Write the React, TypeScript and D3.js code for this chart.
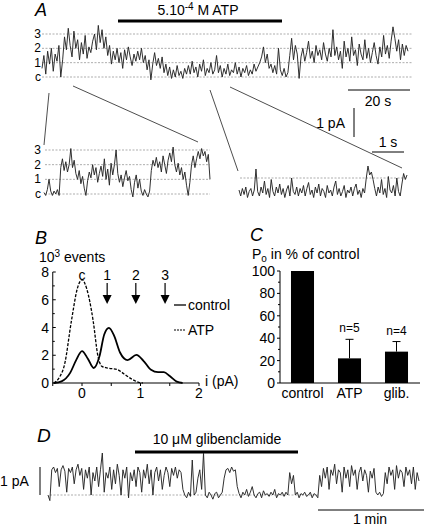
import React from "react";
import * as d3 from "d3";

// ---------- DATA ----------
// Panel A main trace (channel levels, c = 0), evenly sampled over ~118 s
const traceA: number[] = [
  0.6, 1.5, 0.2, 1.8, 0.9, 2.0, 0.4, 1.6, 1.1, 2.2,
  0.0, 1.2,
  2.8, 1.9, 3.4, 2.2,
  1.4, 3.2, 2.0, 2.6,
  1.2, 2.4, 1.6, 2.9, 1.3, 2.1, 1.7,
  2.5, 3.0, 1.9, 3.6, 2.4, 3.3, 2.0, 2.8,
  1.5, 2.2, 0.9, 1.8, 1.2,
  2.0, 1.0, 1.7, 0.6, 1.9, 1.2, 2.1, 1.4, 0.8, 1.6, 1.1,
  1.8, 1.2, 2.0, 1.0, 1.5, 0.5, 1.2,
  -0.2, 0.9, 1.7, 0.8, 1.3,
  0.6, 1.4, 0.3, 0.9,
  0.1, 0.7, -0.1, 0.5, 0.0, 0.8, 0.1, 0.4, -0.1, 0.6, 0.2,
  0.8, 0.2, 1.1, 0.3, 0.7, 0.0, 0.9, 0.4, 1.2, 0.1, 0.6, 0.3, 1.0, 0.2, 0.5, 1.5,
  0.3, 0.8, 0.0, 0.6, 0.2, 0.9, 0.1, 0.5, 0.3, 1.0, 0.2, 0.7, 0.0, 0.6, 0.3, 0.8, 0.1, 0.5, 0.2, 0.9, 0.4, 0.7, 1.0,
  1.4, 2.1, 1.0, 1.6,
  0.6, 0.9, 0.3, 0.8, 0.2, 2.0,
  0.5, 0.1, 0.6, 0.0, 0.3,
  1.5, 2.7, 1.2, 2.2, 1.6,
  -0.1,
  1.4, 2.0, 1.1, 1.7, 2.5, 1.3, 1.8, 1.0, 2.2, 1.5, 1.9, 1.2, 2.4, 1.6, 1.1, 2.0, 1.4,
  3.3, 1.5,
  2.1, 1.2, 1.8, 0.6, 2.5, 1.4, 2.0, 1.1, 2.8, 1.5, 1.9, 0.8, 2.3, 1.6, 1.2, 2.6, 1.3, 2.0, 1.0, 1.7, 2.4, 1.5, 0.9, 2.1, 1.4, 2.9, 1.6, 2.2, 1.3,
  2.5, 3.5, 2.7,
  1.8, 2.6, 1.2, 2.3, 1.5, 2.2, 1.8,
];

// Inset 1 (control, expanded)
const insetControl: number[] = [
  0.1, -0.1, 0.3, 1.0, 0.2, -0.1, 0.2, 0.0, 0.3, -0.1,
  1.8, 2.4, 1.6, 2.2, 1.5, 2.0, 3.1, 1.8, 2.3, 1.4,
  1.0, 1.6, 0.7, 1.2, 0.4, -0.1,
  0.9, 1.5, 1.1, 2.0, 1.3, 1.8, 0.8, 1.4,
  1.9, 1.2, 2.4, 1.0, 1.7, 0.6, 2.1, 1.3, 2.0, 3.0,
  1.4, 0.8, 1.3, 0.5, 1.1, 1.6, 0.9, 1.2, 0.3, -0.2,
  0.8, 1.3, 0.4, 1.0, 0.2, -0.1, 0.3, 0.0, -0.2, 0.2,
  1.6, 2.3, 1.9, 2.5,
  1.8, 2.2, 1.5, 2.6, 2.0, 1.4, 2.3, 2.8, 2.2, 3.2,
  2.0, 1.5, 2.1, 1.3, 1.8, 1.0, 1.5, 0.6,
  -0.1, 0.8,
  2.0, 2.6, 1.8, 2.4,
  2.9, 2.4, 3.1, 2.6, 2.9, 2.2, 2.7,
  1.0,
];

// Inset 2 (ATP, expanded)
const insetATP: number[] = [
  0.2, -0.2, 0.3, -0.1, 0.4, -0.3, 0.1, 0.3, -0.2, 0.2,
  1.6,
  0.1, -0.2, 0.4, 0.0, 0.8, -0.1, 0.3, -0.3,
  0.9, 0.1, -0.2, 0.4, 0.0, 0.6, -0.1, 0.3, -0.3, 0.2, 0.5, -0.2, 1.0, 0.1, -0.1, 0.4, -0.2, 0.3,
  0.0, 0.5, -0.2, 0.3, 0.7, -0.1, 0.2, -0.3, 0.4, 0.0, 0.6, -0.2, 0.3, 0.1, -0.3, 0.5, 0.0, 0.2, -0.2, 0.4,
  0.8, -0.1, 0.3, -0.2, 0.1, 0.5, -0.3, 0.2, 0.0, 0.4, -0.2, 0.3, 0.6, -0.1, 0.2, -0.3, 0.3, 0.0,
  1.0, 1.8, 1.2, 1.4, 0.9, 0.3,
  -0.2, 0.4, 0.0, 0.9, -0.1, 0.3, -0.3, 1.1, 0.2, 0.0, 0.5, -0.2, 1.0, 0.1, -0.2,
  0.6, 1.3, 0.9, 1.2,
];

// Panel D trace (pA)
const traceD: number[] = [
  0.0, -0.2,
  0.9, 1.0, 0.8, 0.95, 0.3, 0.9, 1.05, 0.85, 0.1, 0.95, 0.8, 1.0, 0.4, 0.9, 1.1, 0.7, 0.95,
  0.2, 0.9, 0.6, 1.0, 0.0, 0.8, 0.5, 1.0, 0.3, 0.9, 1.5, 0.1, 0.8, 0.6, 1.0, 0.2, 0.9, 0.4, 1.1, 0.7, 0.0, 0.9, 0.6, 1.0, -0.1, 0.8, 0.5,
  0.9, 0.3, 1.0, 0.8, 0.1, 0.9, 0.6, 1.1, 0.4, 0.9, 0.0, 0.8, 1.0, 0.5, 0.9, 0.2, 0.7, 1.0, 0.8, 0.3, 0.95, 0.7, 1.0, 0.6, 0.9, 0.8, 0.2,
  0.0, -0.1, 0.1, -0.05, 1.25, 0.0, 0.1, 0.6, 0.9, 0.2, 1.5, 0.0, -0.1, 0.1, 0.0, -0.15, 0.05, 0.1, -0.1, 0.0, 0.1,
  0.6, 0.9, 0.95, 0.8, 1.0, 0.85, 0.9, 0.3,
  0.05, -0.1, 0.1, 0.0, 0.2, -0.05, 0.1, 0.3, 0.0, -0.1, 0.05, 0.1, -0.1, 0.15, 0.0, 0.05, -0.05, 0.1, 0.0, 0.2, -0.1, 0.05, 0.0, 0.1, -0.05, 0.1, 0.0,
  0.8, 0.4, 0.7,
  0.0, 0.1, -0.1, 0.05, 0.0, 0.1, -0.05, 0.0, 0.1, -0.1, 0.05, 0.0, -0.1,
  0.7, 0.3, 0.95, 0.6, 1.0, 0.2, 0.9, 0.7, 1.1, 0.4, 0.9, 0.8, 0.1, 1.0, 0.6, 0.9, 0.3, 1.05, 0.7, 0.9, 0.2, 0.8, 1.0, 0.5, 0.9, 0.7, 0.1, 0.85, 0.6, 0.95,
  0.1, 0.0, 0.1, -0.05, 0.05,
  0.8, 0.4, 1.0, 0.7, 0.9, 0.2, 1.05, 0.6, 0.9, 0.8, 0.3, 1.0, 0.7, 0.9, 0.4, 1.0, 0.2, 0.8, 0.5,
];

const levelLabels = ["c", "1", "2", "3"];

// Panel B amplitude histograms: [i (pA), 10^3 events]
const histControl: [number, number][] = [
  [-0.48, 0], [-0.35, 0.12], [-0.2, 0.75], [-0.1, 1.65], [0, 2.3], [0.1, 1.75], [0.2, 1.08],
  [0.3, 1.95], [0.38, 3.5], [0.46, 3.98], [0.55, 3.4], [0.65, 2.2], [0.78, 1.65], [0.93, 2.02],
  [1.05, 1.6], [1.18, 0.95], [1.3, 0.78], [1.4, 0.78], [1.5, 0.5], [1.62, 0.1], [1.72, 0],
];
const histATP: [number, number][] = [
  [-0.48, 0], [-0.38, 0.45], [-0.3, 1.3], [-0.18, 4.5], [-0.08, 6.8], [0, 7.45], [0.08, 6.8],
  [0.19, 4.5], [0.27, 2.0], [0.34, 1.2], [0.45, 1.07], [0.6, 0.98], [0.72, 0.65], [0.85, 0.28],
  [0.97, 0.05], [1.04, 0],
];
const arrowLevels = [0.43, 0.92, 1.42];
const arrowLabels = ["1", "2", "3"];
const histXTicks = [0, 1, 2];
const histYTicks = [0, 2, 4, 6, 8];

// Panel C
const poCategories = ["control", "ATP", "glib."];
const poValues = [100, 22, 28];
const poErrors = [0, 17, 9];
const poN = ["", "n=5", "n=4"];
const poYTicks = [0, 20, 40, 60, 80, 100];

const FONT = "'Liberation Sans', Arial, Helvetica, sans-serif";
const TRACE = "#262626";

function tracePath(vals: number[], x0: number, x1: number, yScale: (v: number) => number) {
  const xs = d3.scaleLinear().domain([0, vals.length - 1]).range([x0, x1]);
  return d3.line<number>().x((_, i) => xs(i)).y((v) => yScale(v))(vals) || "";
}

export default function App() {
  // Panel A scales
  const yA = d3.scaleLinear().domain([0, 3]).range([77, 34]);
  const yI1 = d3.scaleLinear().domain([0, 3]).range([194, 150]);
  const yI2 = d3.scaleLinear().domain([0, 1]).range([193, 178]);
  const yD = d3.scaleLinear().domain([0, 1]).range([495, 467]);

  // Panel B scales
  const xB = d3.scaleLinear().domain([-0.5, 2]).range([52.75, 199]);
  const yB = d3.scaleLinear().domain([0, 8]).range([383, 272]);
  const histLine = d3.line<[number, number]>().x((d) => xB(d[0])).y((d) => yB(d[1])).curve(d3.curveMonotoneX);

  // Panel C scales
  const xC = d3.scaleBand<string>().domain(poCategories).range([279, 420]).paddingInner(0.51).paddingOuter(0.255);
  const yC = d3.scaleLinear().domain([0, 100]).range([383, 271]);

  const dash = { stroke: "#8a8a8a", strokeWidth: 0.7, strokeDasharray: "2,1.5" };
  const traceStyle = { fill: "none", stroke: TRACE, strokeWidth: 0.95, strokeLinejoin: "bevel" as const };

  return (
    <svg width={424} height={528} style={{ position: "absolute", left: 0, top: 0, background: "#fff" }} fontFamily={FONT}>
      <rect x={0} y={0} width={424} height={528} fill="#fff" />
      {/* ===== Panel A ===== */}
      <text x={35} y={16} fontSize={18} fontStyle="italic">A</text>
      <text x={198} y={15} fontSize={14} textAnchor="middle">
        5.10<tspan fontSize={10} dy={-5}>-4</tspan><tspan dy={5}> M ATP</tspan>
      </text>
      <line x1={118} x2={282} y1={21} y2={21} stroke="#000" strokeWidth={3} />
      {[0, 1, 2, 3].map((l) => (
        <g key={"al" + l}>
          <line x1={42} x2={412} y1={yA(l)} y2={yA(l)} {...dash} />
          <text x={41} y={yA(l) + 4} fontSize={12} textAnchor="end">{levelLabels[l]}</text>
        </g>
      ))}
      <path d={tracePath(traceA, 42, 408, yA)} {...traceStyle} />
      {/* 20 s bar */}
      <line x1={348} x2={410} y1={90} y2={90} stroke="#000" strokeWidth={1} />
      <text x={378} y={106} fontSize={14} textAnchor="middle">20 s</text>
      {/* 1 pA bar */}
      <line x1={354} x2={354} y1={108} y2={137} stroke="#000" strokeWidth={1} />
      <text x={345} y={128} fontSize={14} textAnchor="end">1 pA</text>
      {/* 1 s bar */}
      <line x1={372} x2={404} y1={152} y2={152} stroke="#000" strokeWidth={1} />
      <text x={388} y={147} fontSize={14} textAnchor="middle">1 s</text>
      {/* zoom lines */}
      <line x1={49} y1={93} x2={44} y2={145} stroke="#000" strokeWidth={0.7} />
      <line x1={73} y1={86} x2={198} y2={142} stroke="#000" strokeWidth={0.7} />
      <line x1={210} y1={90} x2={238} y2={171} stroke="#000" strokeWidth={0.7} />
      <line x1={230} y1={87} x2={402} y2={168} stroke="#000" strokeWidth={0.7} />
      {/* inset 1 */}
      {[0, 1, 2, 3].map((l) => (
        <g key={"i1" + l}>
          <line x1={45} x2={210} y1={yI1(l)} y2={yI1(l)} {...dash} />
          <text x={41} y={yI1(l) + 4} fontSize={12} textAnchor="end">{levelLabels[l]}</text>
        </g>
      ))}
      <path d={tracePath(insetControl, 44, 210, yI1)} {...traceStyle} />
      {/* inset 2 */}
      <line x1={240} x2={407} y1={yI2(1)} y2={yI2(1)} {...dash} />
      <path d={tracePath(insetATP, 239, 407, yI2)} {...traceStyle} />

      {/* ===== Panel B ===== */}
      <text x={35} y={244} fontSize={18} fontStyle="italic">B</text>
      <text x={39} y={262} fontSize={14}>
        10<tspan fontSize={10} dy={-5}>3</tspan><tspan dy={5}> events</tspan>
      </text>
      <line x1={xB(-0.5)} x2={xB(-0.5)} y1={yB(8)} y2={yB(0)} stroke="#000" strokeWidth={1} />
      {d3.range(0, 9).map((v) => (
        <line key={"byt" + v} x1={xB(-0.5)} x2={xB(-0.5) + (v % 2 === 0 ? 3 : 2)} y1={yB(v)} y2={yB(v)} stroke="#000" strokeWidth={1} />
      ))}
      {histYTicks.map((v) => (
        <text key={"byl" + v} x={49} y={yB(v) + 5} fontSize={14} textAnchor="end">{v}</text>
      ))}
      <line x1={xB(-0.5)} x2={xB(2)} y1={yB(0)} y2={yB(0)} stroke="#000" strokeWidth={1} />
      {d3.range(-0.5, 2.01, 0.5).map((v) => (
        <line key={"bxt" + v} x1={xB(v)} x2={xB(v)} y1={yB(0)} y2={yB(0) + 3} stroke="#000" strokeWidth={1} />
      ))}
      {histXTicks.map((v) => (
        <text key={"bxl" + v} x={xB(v)} y={398} fontSize={14} textAnchor="middle">{v}</text>
      ))}
      <text x={205} y={386} fontSize={14}>i (pA)</text>
      <path d={histLine(histATP) || ""} fill="none" stroke="#000" strokeWidth={1.3} strokeDasharray="3,1.5" />
      <path d={histLine(histControl) || ""} fill="none" stroke="#000" strokeWidth={1.8} />
      <text x={xB(0)} y={280} fontSize={14} textAnchor="middle">c</text>
      {arrowLevels.map((v, i) => (
        <g key={"arr" + i}>
          <text x={xB(v)} y={280} fontSize={14} textAnchor="middle">{arrowLabels[i]}</text>
          <line x1={xB(v)} x2={xB(v)} y1={283} y2={297} stroke="#000" strokeWidth={1.2} />
          <path d={`M${xB(v) - 4.5},295 L${xB(v) + 4.5},295 L${xB(v)},304 Z`} fill="#000" />
        </g>
      ))}
      <line x1={174} x2={186} y1={305} y2={305} stroke="#000" strokeWidth={1.3} />
      <text x={188} y={310} fontSize={14}>control</text>
      <line x1={174} x2={186} y1={330} y2={330} stroke="#000" strokeWidth={1.1} strokeDasharray="2,1" />
      <text x={188} y={335} fontSize={14}>ATP</text>

      {/* ===== Panel C ===== */}
      <text x={250} y={241} fontSize={18} fontStyle="italic">C</text>
      <text x={252} y={259} fontSize={14}>
        P<tspan fontSize={10} dy={3}>o</tspan><tspan dy={-3}> in % of control</tspan>
      </text>
      <line x1={280} x2={280} y1={yC(100)} y2={yC(0)} stroke="#000" strokeWidth={1} />
      {d3.range(0, 101, 10).map((v) => (
        <line key={"cyt" + v} x1={280 - (v % 20 === 0 ? 3 : 2)} x2={280} y1={yC(v)} y2={yC(v)} stroke="#000" strokeWidth={1} />
      ))}
      {poYTicks.map((v) => (
        <text key={"cyl" + v} x={275} y={yC(v) + 5} fontSize={14} textAnchor="end">{v}</text>
      ))}
      <line x1={280} x2={420} y1={yC(0)} y2={yC(0)} stroke="#000" strokeWidth={1} />
      {poCategories.map((c, i) => {
        const x = xC(c) || 0;
        const bw = xC.bandwidth();
        const cx = x + bw / 2;
        return (
          <g key={"bar" + c}>
            <rect x={x} y={yC(poValues[i])} width={bw} height={yC(0) - yC(poValues[i])} fill="#000" />
            {poErrors[i] > 0 && (
              <g>
                <line x1={cx} x2={cx} y1={yC(poValues[i])} y2={yC(poValues[i] + poErrors[i])} stroke="#000" strokeWidth={1} />
                <line x1={cx - 4} x2={cx + 4} y1={yC(poValues[i] + poErrors[i])} y2={yC(poValues[i] + poErrors[i])} stroke="#000" strokeWidth={1} />
              </g>
            )}
            {poN[i] && (
              <text x={cx} y={yC(poValues[i] + poErrors[i]) - 7} fontSize={12} textAnchor="middle">{poN[i]}</text>
            )}
            <text x={cx} y={398} fontSize={14} textAnchor="middle">{c}</text>
          </g>
        );
      })}

      {/* ===== Panel D ===== */}
      <text x={37} y={442} fontSize={19} fontStyle="italic">D</text>
      <text x={217} y={444} fontSize={14} textAnchor="middle">10 μM glibenclamide</text>
      <line x1={135} x2={298} y1={452} y2={452} stroke="#000" strokeWidth={3} />
      <line x1={50} x2={318} y1={yD(0)} y2={yD(0)} {...dash} />
      <path d={tracePath(traceD, 48, 419, yD)} {...traceStyle} />
      <line x1={40} x2={40} y1={yD(1)} y2={yD(0)} stroke="#000" strokeWidth={1} />
      <text x={0} y={486} fontSize={14}>1 pA</text>
      <line x1={318} x2={424} y1={510} y2={510} stroke="#000" strokeWidth={1} />
      <text x={370} y={524} fontSize={14} textAnchor="middle">1 min</text>
    </svg>
  );
}
